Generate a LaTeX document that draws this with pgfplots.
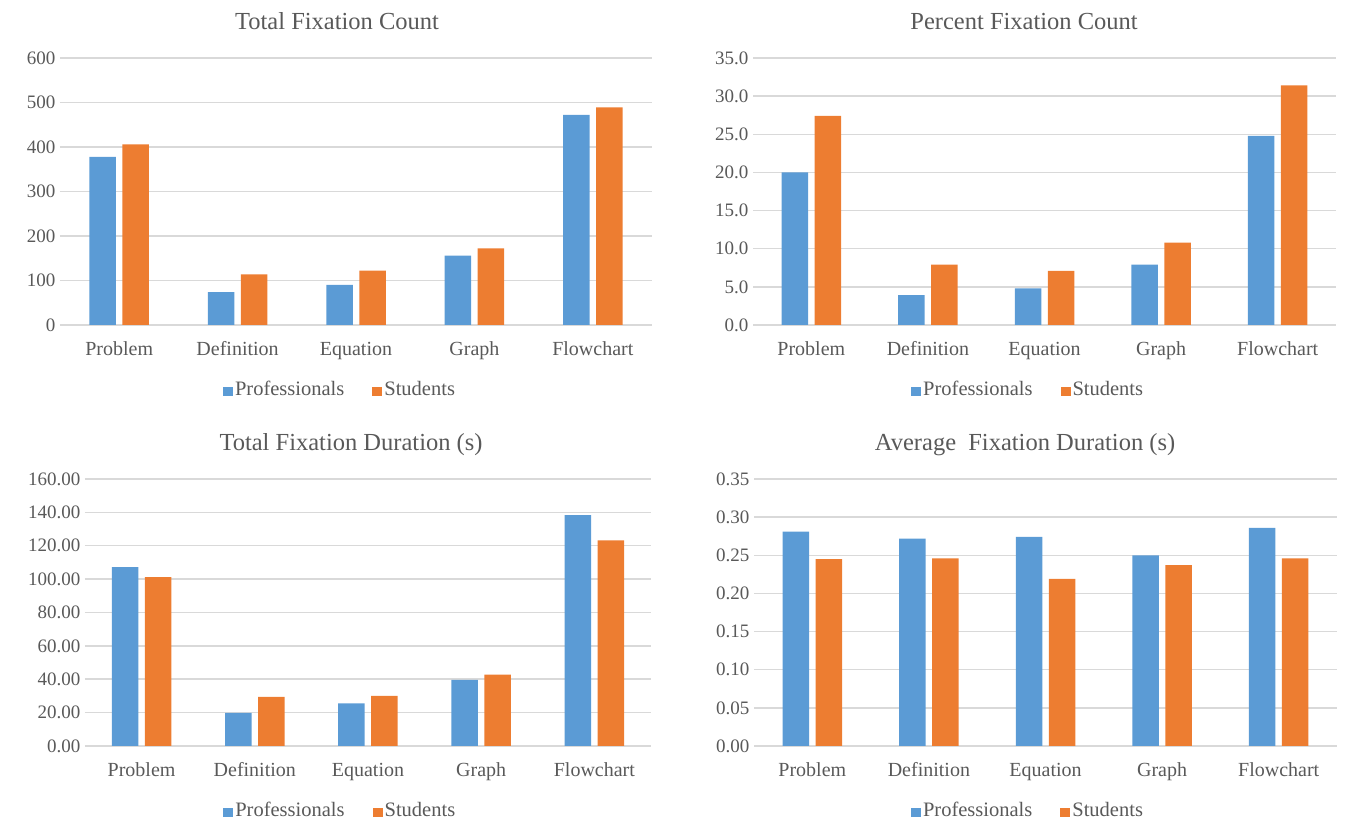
\documentclass[border=0pt]{standalone}
\usepackage{fontspec}
\setmainfont{Liberation Serif}
\usepackage{pgfplots}
\pgfplotsset{compat=1.18}

\definecolor{profblue}{HTML}{5B9BD5}
\definecolor{studorange}{HTML}{ED7D31}
\definecolor{gridgray}{HTML}{D9D9D9}
\definecolor{labelgray}{HTML}{595959}

\pgfplotsset{
  fixbar/.style={
    scale only axis,
    height=267pt,
    ybar,
    bar width=26.5pt,
    xmin=-0.5, xmax=4.5,
    xtick={0,1,2,3,4},
    xticklabels={Problem,Definition,Equation,Graph,Flowchart},
    ymin=0,
    ymajorgrids,
    grid style={gridgray, line width=1.5pt},
    axis line style={draw=none},
    major tick length=0pt,
    tick label style={font=\fontsize{19}{22}\selectfont, text=labelgray},
    /pgf/number format/assume math mode=true,
    xticklabel style={font=\fontsize{20}{23}\selectfont, anchor=base, yshift=-31pt},
    yticklabel style={xshift=-1pt},
    title style={font=\fontsize{24.5}{28}\selectfont, text=labelgray, anchor=base, yshift=-7pt},
    legend columns=2,
    legend style={draw=none, fill=none, anchor=center,
      font=\fontsize{20.5}{23}\selectfont, text=labelgray,
      nodes={inner xsep=2pt},
      /tikz/every even column/.append style={column sep=26pt}},
    legend image code/.code={\fill[##1] (0pt,-6.5pt) rectangle (10pt,2.5pt);},
    clip=false,
  },
  prof/.style={fill=profblue, draw=none, bar shift=-16.5pt},
  stud/.style={fill=studorange, draw=none, bar shift=16.5pt},
}

\begin{document}
\begin{tikzpicture}
\useasboundingbox (0,0) rectangle (1345pt,819pt);

% Total fixation count
\begin{axis}[fixbar, at={(60pt,494pt)}, anchor=south west, width=592pt,
    ymax=600, ytick={0,100,200,300,400,500,600},
    yticklabel style={/pgf/number format/fixed, /pgf/number format/precision=0},
    title={Total Fixation Count}, title style={at={(0.468,1.112)}},
    legend style={at={(0.473,-0.240)}}]
\addplot[prof] coordinates {(0,378) (1,74) (2,90) (3,156) (4,472)};
\addplot[stud] coordinates {(0,406) (1,114) (2,122) (3,172) (4,489)};
\legend{Professionals,Students}
\end{axis}

% Percent fixation count
\begin{axis}[fixbar, at={(753pt,494pt)}, anchor=south west, width=583pt,
    ymax=35, ytick={0,5,10,15,20,25,30,35},
    yticklabel style={/pgf/number format/fixed, /pgf/number format/fixed zerofill, /pgf/number format/precision=1},
    title={Percent Fixation Count}, title style={at={(0.465,1.112)}},
    legend style={at={(0.472,-0.240)}}]
\addplot[prof] coordinates {(0,20.0) (1,3.9) (2,4.8) (3,7.9) (4,24.8)};
\addplot[stud] coordinates {(0,27.4) (1,7.9) (2,7.1) (3,10.8) (4,31.4)};
\legend{Professionals,Students}
\end{axis}

% Total fixation duration
\begin{axis}[fixbar, at={(85pt,73pt)}, anchor=south west, width=566pt,
    ymax=160, ytick={0,20,40,60,80,100,120,140,160},
    yticklabel style={/pgf/number format/fixed, /pgf/number format/fixed zerofill, /pgf/number format/precision=2},
    title={Total Fixation Duration (s)}, title style={at={(0.470,1.112)}},
    legend style={at={(0.451,-0.240)}}]
\addplot[prof] coordinates {(0,107.2) (1,19.8) (2,25.6) (3,39.6) (4,138.4)};
\addplot[stud] coordinates {(0,101.2) (1,29.4) (2,30.0) (3,42.8) (4,123.2)};
\legend{Professionals,Students}
\end{axis}

% Average fixation duration
\begin{axis}[fixbar, at={(754pt,73pt)}, anchor=south west, width=583pt,
    ymax=0.35, ytick={0,0.05,0.1,0.15,0.2,0.25,0.3,0.35},
    yticklabel style={/pgf/number format/fixed, /pgf/number format/fixed zerofill, /pgf/number format/precision=2},
    title={Average\ \ Fixation Duration (s)}, title style={at={(0.465,1.112)}},
    legend style={at={(0.470,-0.240)}}]
\addplot[prof] coordinates {(0,0.281) (1,0.272) (2,0.274) (3,0.250) (4,0.286)};
\addplot[stud] coordinates {(0,0.245) (1,0.246) (2,0.219) (3,0.237) (4,0.246)};
\legend{Professionals,Students}
\end{axis}
\end{tikzpicture}
\end{document}
